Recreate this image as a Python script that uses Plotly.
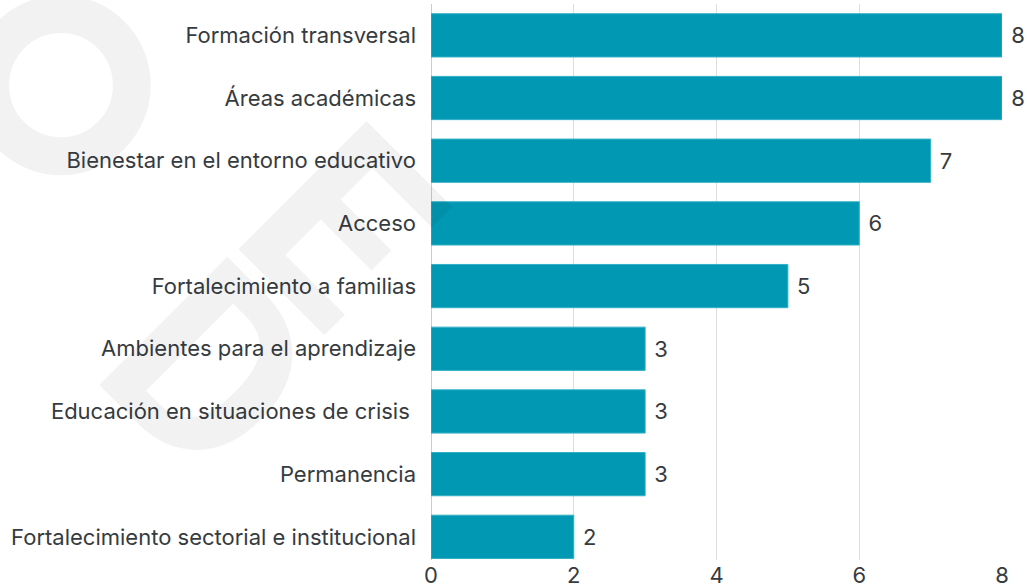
import plotly.graph_objects as go

# Categories (top to bottom) and counts
categorias = [
    "Formación transversal",
    "Áreas académicas",
    "Bienestar en el entorno educativo",
    "Acceso",
    "Fortalecimiento a familias",
    "Ambientes para el aprendizaje",
    "Educación en situaciones de crisis ",
    "Permanencia",
    "Fortalecimiento sectorial e institucional",
]
valores = [8, 8, 7, 6, 5, 3, 3, 3, 2]
ticks_x = [0, 2, 4, 6, 8]

bar_color = "#0098B3"
text_color = "#363b40"
font_family = "Inter, Roboto, sans-serif"
wm = "rgba(0,0,0,0.05)"  # watermark grey

fig = go.Figure(
    go.Bar(
        x=valores,
        y=categorias,
        orientation="h",
        marker=dict(color=bar_color, line=dict(color="#33B0C6", width=1)),
        text=[" " + str(v) for v in valores],
        textposition="outside",
        cliponaxis=False,
        textfont=dict(size=22, color=text_color, family=font_family),
    )
)

# faint watermark in the background (ring + rotated letters)
fig.add_shape(type="circle", xref="paper", yref="paper",
              x0=-0.772, x1=-0.524, y0=0.726, y1=0.982,
              line=dict(color=wm, width=38), layer="below")
fig.add_annotation(text="<b>E</b>", xref="paper", yref="paper", x=-0.16, y=0.60,
                   xanchor="center", yanchor="middle",
                   showarrow=False, textangle=45,
                   font=dict(size=255, color=wm, family="Roboto"))
fig.add_annotation(text="<b>D</b>", xref="paper", yref="paper", x=-0.39, y=0.34,
                   xanchor="center", yanchor="middle",
                   showarrow=False, textangle=45,
                   font=dict(size=255, color=wm, family="Roboto"))

fig.update_layout(
    width=1027,
    height=588,
    margin=dict(l=431, r=25, t=4, b=28),
    plot_bgcolor="white",
    paper_bgcolor="white",
    bargap=0.31,
    showlegend=False,
    font=dict(family=font_family, size=22, color=text_color),
)
fig.update_xaxes(
    range=[0, 8],
    tickvals=ticks_x,
    showgrid=True,
    gridcolor="#dddddd",
    gridwidth=1,
    zeroline=True,
    zerolinecolor="#cccccc",
    zerolinewidth=1,
    showline=False,
    automargin=False,
    tickfont=dict(size=22, color=text_color),
    ticks="",
)
fig.update_yaxes(
    categoryorder="array",
    categoryarray=categorias,
    range=[8.37, -0.5],
    ticks="",
    automargin=False,
    ticklabelstandoff=14,
    tickfont=dict(size=22, color=text_color),
)

fig.write_html("out.html", config={"displayModeBar": False},
               post_script="document.body.style.margin='0';")
